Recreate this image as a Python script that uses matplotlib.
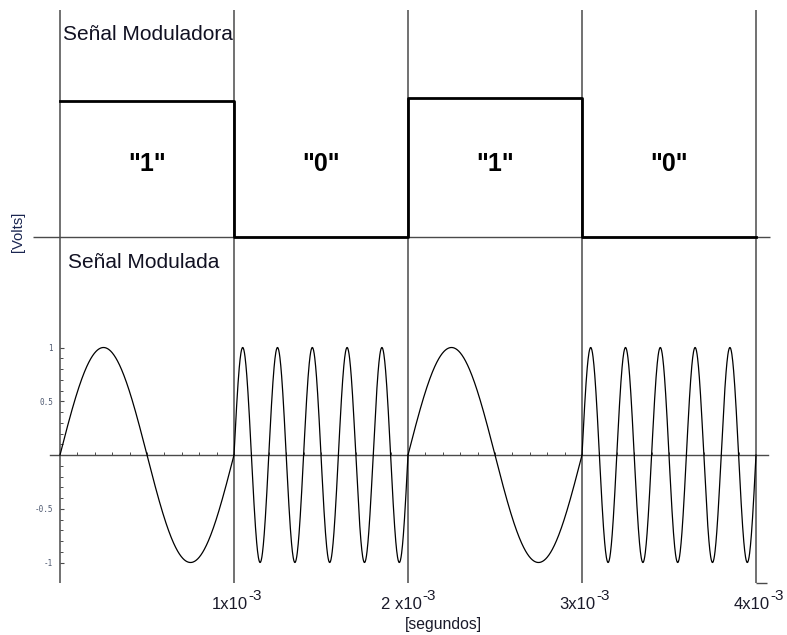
import numpy as np
import matplotlib
matplotlib.use("Agg")
import matplotlib.pyplot as plt

plt.rcParams['font.family'] = ['Liberation Sans', 'DejaVu Sans']

# ---- data ----
bits = [1, 0, 1, 0]
bit_period = 1e-3                       # seconds
mod_levels = [1.0, 0.0, 1.02, 0.0]      # modulating signal levels (as drawn)
freq_one = 1000.0                       # Hz for bit "1"
freq_zero = 5000.0                      # Hz for bit "0"
amplitude = 1.0
bit_labels = ['"1"', '"0"', '"1"', '"0"']
xtick_values = [1e-3, 2e-3, 3e-3, 4e-3]
xtick_bases = ["1x10", "2 x10", "3x10", "4x10"]
xtick_exp = "-3"
ytick_major = [-1, -0.5, 0.5, 1]
ytick_labels = ["-1", "-0.5", "0.5", "1"]

# ---- layout (pixel geometry of the reference) ----
W, H, DPI = 787, 635, 100
X0PX, PXPERSEC = 60, 174000.0
BOT_ZERO, BOT_SCALE = 455, 107.5
TOP_ZERO, TOP_SCALE = 237, 136.0

fig = plt.figure(figsize=(W / DPI, H / DPI), dpi=DPI)
ax_b = fig.add_axes([0, 0, 1, 1])
ax_t = fig.add_axes([0, 0, 1, 1])
for a in (ax_b, ax_t):
    a.set_facecolor('none')
    a.set_xlim(-X0PX / PXPERSEC, (W - X0PX) / PXPERSEC)
ax_b.set_ylim(-(H - BOT_ZERO) / BOT_SCALE, BOT_ZERO / BOT_SCALE)
ax_t.set_ylim(-(H - TOP_ZERO) / TOP_SCALE, TOP_ZERO / TOP_SCALE)
ax_t.axis('off')

def tx(px):
    return (px - X0PX) / PXPERSEC

def by(px):
    return (BOT_ZERO - px) / BOT_SCALE

line_col = '#4a4a4a'

# vertical separators at bit boundaries
edges = [i * bit_period for i in range(len(bits) + 1)]
ax_b.vlines(edges, by(583), by(10), color=line_col, lw=1.1, zorder=1)
ax_b.hlines(by(583), edges[-1], tx(767), color=line_col, lw=1.0)

# top panel baseline
ax_t.hlines(0, tx(33), tx(770), color=line_col, lw=1.0)

# modulating square wave
ax_t.step(edges, mod_levels + [mod_levels[-1]], where='post', color='black', lw=2.0, zorder=3)

# modulated (FSK) signal
for i, b in enumerate(bits):
    f = freq_one if b else freq_zero
    t = np.linspace(edges[i], edges[i + 1], 600)
    ax_b.plot(t, amplitude * np.sin(2 * np.pi * f * t), color='black', lw=0.9, zorder=3)

# axes of the lower panel via spines
for s in ('top', 'right'):
    ax_b.spines[s].set_visible(False)
ax_b.spines['left'].set_position(('data', 0))
ax_b.spines['bottom'].set_position(('data', 0))
ax_b.spines['left'].set_visible(False)
ax_b.spines['bottom'].set_bounds(tx(50), tx(768))
ax_b.spines['bottom'].set_color(line_col)
ax_b.spines['bottom'].set_linewidth(1.0)

ax_b.set_yticks(ytick_major)
ax_b.set_yticklabels(ytick_labels, family='DejaVu Sans Mono', fontsize=5.5, color='#4d5870')
ax_b.set_yticks(np.round(np.arange(-1.0, 1.01, 0.1), 2), minor=True)
ax_b.tick_params(axis='y', which='major', direction='in', length=3, width=0.8,
                 color=line_col, pad=5)
ax_b.tick_params(axis='y', which='minor', direction='in', length=2, width=0.7, color=line_col)
ax_b.set_xticks([])
ax_b.set_xticks(np.arange(1, 40) * 1e-4, minor=True)
ax_b.tick_params(axis='x', which='minor', direction='in', length=2, width=0.7, color=line_col)

# x tick labels
for v, base in zip(xtick_values, xtick_bases):
    ax_b.annotate(base, xy=(v, by(609)), xytext=(13.5 * 0.72, 0), textcoords='offset points',
                  ha='right', va='baseline', fontsize=12, color='#1a1a2a')
    ax_b.annotate(xtick_exp, xy=(v, by(600)), xytext=(14.5 * 0.72, 0), textcoords='offset points',
                  ha='left', va='baseline', fontsize=11, color='#1a1a2a')

# texts
ax_b.text(tx(63), by(35), "Señal Moduladora", fontsize=15, ha='left', va='center', color='#111122')
ax_b.text(tx(68), by(263), "Señal Modulada", fontsize=15, ha='left', va='center', color='#111122')
ax_b.text(tx(18), by(232), "[Volts]", fontsize=10.7, rotation=90, ha='center', va='center', color='#1a2550')
ax_b.text(tx(443), by(624), "[segundos]", fontsize=11.3, ha='center', va='center', color='#1a1a2a')
for i, lab in enumerate(bit_labels):
    ax_t.text((edges[i] + edges[i + 1]) / 2, 0.54, lab, fontsize=18, fontweight='bold',
              ha='center', va='center', color='black')

fig.savefig('out.png', dpi=DPI)
